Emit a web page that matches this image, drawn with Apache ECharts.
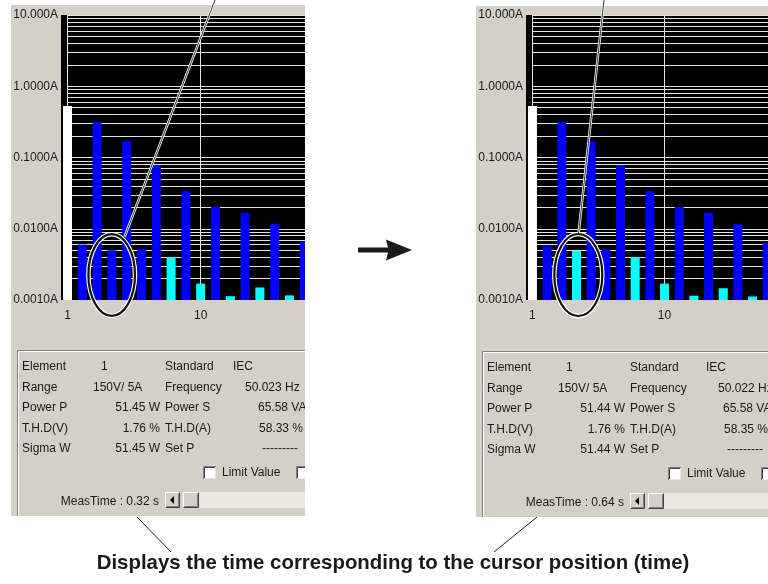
<!DOCTYPE html>
<html><head><meta charset="utf-8">
<script src="https://cdn.jsdelivr.net/npm/echarts@6/dist/echarts.min.js"></script>
<style>html,body{margin:0;padding:0;background:#fff}#c{width:768px;height:584px}</style>
</head><body><div id="c"></div>
<script>
// ---- data ----
const harmonicOrders = [1,2,3,4,5,6,7,8,9,10,11,12,13,14,15,16,17];
const leftCurrents  = [0.53, 0.0060, 0.315, 0.0050, 0.170, 0.0052, 0.0785, 0.0040, 0.0335, 0.0017, 0.0202, 0.00113, 0.0168, 0.0015, 0.0118, 0.00116, 0.0065];
const rightCurrents = [0.53, 0.0058, 0.315, 0.0049, 0.168, 0.0051, 0.0785, 0.0040, 0.0335, 0.0017, 0.0202, 0.00115, 0.0168, 0.00146, 0.0116, 0.00112, 0.0063];
// F = fundamental, B = blue bar, C = cyan bar
const leftStatus  = ['F','B','B','B','B','B','B','C','B','C','B','C','B','C','B','C','B'];
const rightStatus = ['F','B','B','C','B','B','B','C','B','C','B','C','B','C','B','C','B'];
const yTickLabels = ['0.0010A','0.0100A','0.1000A','1.0000A','10.000A'];
const xTickValues = [1, 10];
const infoLabelsA = ['Element','Range','Power P','T.H.D(V)','Sigma W'];
const infoLabelsB = ['Standard','Frequency','Power S','T.H.D(A)','Set P'];
const leftValuesA  = ['1','150V/ 5A','51.45 W','1.76 %','51.45 W'];
const leftValuesB  = ['IEC','50.023 Hz','65.58 VA','58.33 %','---------'];
const rightValuesA = ['1','150V/ 5A','51.44 W','1.76 %','51.44 W'];
const rightValuesB = ['IEC','50.022 Hz','65.58 VA','58.35 %','---------'];
const measTimes = ['0.32 s','0.64 s'];
const checkLabel = 'Limit Value';
const caption = 'Displays the time corresponding to the cursor position (time)';

// ---- styling / layout ----
const statusCodes = 'FBC';
const statusColors = ['#ffffff','#0000ff','#00ffff'];
const yMin = 0.001, yMax = 10, xMin = 0.56, xMax = 17.05, barW = 9;
const FONT = '12px "Liberation Sans", Arial, sans-serif';
const TXT = '#1a1a1a', FACE = '#d4d0c8';
const gridLines = [];
[0.001,0.01,0.1,1].forEach(d => { for (let k = 1; k <= 9; k++) { if (d === 0.001 && k === 1) continue; gridLines.push(+(d*k).toPrecision(3)); } });
gridLines.push(10);

const panels = [
  {dx:0, dy:0, vals:leftCurrents, stat:leftStatus, A:leftValuesA, B:leftValuesB, meas:measTimes[0], shiftB:0},
  {dx:465, dy:1, vals:rightCurrents, stat:rightStatus, A:rightValuesA, B:rightValuesB, meas:measTimes[1], shiftB:8}
];

const grids = [], xAxes = [], yAxes = [], series = [], G = [];
panels.forEach((p, i) => {
  grids.push({left: 61 + p.dx, top: 15, width: 244, height: 285, show: true, backgroundColor: '#000', borderWidth: 0});
  xAxes.push({gridIndex: i, type: 'value', min: xMin, max: xMax,
    axisLine: {show: false}, axisTick: {show: false}, splitLine: {show: false},
    axisLabel: {customValues: xTickValues, color: TXT, fontSize: 12, fontFamily: 'Liberation Sans', margin: 10}});
  yAxes.push({gridIndex: i, type: 'log', logBase: 10, min: yMin, max: yMax,
    axisLine: {show: false}, axisTick: {show: false}, splitLine: {show: false},
    axisLabel: {color: TXT, fontSize: 12, fontFamily: 'Liberation Sans', margin: 3,
      formatter: v => yTickLabels[Math.round(Math.log10(v)) + 3]}});
  series.push({type: 'line', xAxisIndex: i, yAxisIndex: i, data: [], z: 1, silent: true,
    markLine: {z: 1, silent: true, symbol: 'none', animation: false, label: {show: false},
      lineStyle: {type: 'solid', color: '#e4e4e4', width: 1, opacity: 1},
      emphasis: {disabled: true},
      data: gridLines.map(v => [{coord: [1, v]}, {coord: [xMax, v]}])
        .concat(xTickValues.map(x => [{coord: [x, yMax]}, {coord: [x, yMin]}]))}});
  series.push({type: 'custom', xAxisIndex: i, yAxisIndex: i, z: 10, clip: true, silent: true,
    encode: {x: 0, y: 1},
    data: harmonicOrders.map((o, k) => [o, p.vals[k], statusCodes.indexOf(p.stat[k])]),
    renderItem: (params, api) => {
      const x = api.value(0), v = api.value(1), s = api.value(2);
      const top = api.coord([x, v]);
      const base = api.coord([x, yMin]);
      return {type: 'rect', shape: {x: top[0] - barW / 2, y: top[1], width: barW, height: base[1] - top[1]},
        style: {fill: statusColors[s]}};
    }});

  // ---- panel chrome (graphics) ----
  const dx = p.dx, dy = p.dy;
  G.push({type: 'rect', shape: {x: 11 + dx, y: 5 + dy, width: 300, height: 511}, style: {fill: FACE}, z: -1, silent: true});
  // etched group box (top + left edges)
  G.push({type: 'polyline', shape: {points: [[17.5 + dx, 516 + dy], [17.5 + dx, 350.5 + dy], [330 + dx, 350.5 + dy]]}, style: {stroke: '#808080', lineWidth: 1, fill: null}, z: 2});
  G.push({type: 'polyline', shape: {points: [[18.5 + dx, 516 + dy], [18.5 + dx, 351.5 + dy], [330 + dx, 351.5 + dy]]}, style: {stroke: '#ffffff', lineWidth: 1, fill: null}, z: 2});
  const rows = [367, 387.5, 408, 428.5, 449];
  const t = (x, y, s, al) => G.push({type: 'text', x: x, y: y + dy, z: 5, silent: true,
    style: {text: s, font: FONT, fill: TXT, align: al || 'left', textAlign: al || 'left', verticalAlign: 'middle', textVerticalAlign: 'middle'}});
  rows.forEach((y, k) => {
    t(22 + dx, y, infoLabelsA[k]);
    if (k === 0) t(101 + dx, y, p.A[k]);
    else if (k === 1) t(93 + dx, y, p.A[k]);
    else t(160 + dx, y, p.A[k], 'right');
    t(165 + dx, y, infoLabelsB[k]);
    const bx = [233 + p.shiftB, 245 + p.shiftB, 258, 259, 262][k];
    t(bx + dx, y, p.B[k]);
  });
  // checkboxes
  [203.5, 296.5].forEach(cx => {
    G.push({type: 'rect', shape: {x: cx + dx, y: 466.5 + dy, width: 12, height: 12}, style: {fill: '#ffffff', stroke: null}, z: 3});
    G.push({type: 'polyline', shape: {points: [[cx + dx, 479 + dy], [cx + dx, 466.5 + dy], [cx + 12.5 + dx, 466.5 + dy]]}, style: {stroke: '#808080', lineWidth: 1, fill: null}, z: 4});
    G.push({type: 'polyline', shape: {points: [[cx + 1 + dx, 478 + dy], [cx + 1 + dx, 467.5 + dy], [cx + 11.5 + dx, 467.5 + dy]]}, style: {stroke: '#404040', lineWidth: 1, fill: null}, z: 4});
  });
  t(222 + dx, 473, checkLabel);
  // MeasTime and scrollbar
  t(159 + dx, 501.5, 'MeasTime : ' + p.meas, 'right');
  G.push({type: 'rect', shape: {x: 199 + dx, y: 492 + dy, width: 140, height: 16}, style: {fill: '#ebe8e2'}, z: 3});
  [[165, 15], [183, 16]].forEach(([bx, bw]) => {
    G.push({type: 'rect', shape: {x: bx + dx, y: 492 + dy, width: bw, height: 16}, style: {fill: FACE}, z: 4});
    G.push({type: 'polyline', shape: {points: [[bx + 0.5 + dx, 507.5 + dy], [bx + 0.5 + dx, 492.5 + dy], [bx + bw - 0.5 + dx, 492.5 + dy]]}, style: {stroke: '#ffffff', lineWidth: 1, fill: null}, z: 5});
    G.push({type: 'polyline', shape: {points: [[bx + 0.5 + dx, 507.5 + dy], [bx + bw - 0.5 + dx, 507.5 + dy], [bx + bw - 0.5 + dx, 492.5 + dy]]}, style: {stroke: '#404040', lineWidth: 1, fill: null}, z: 5});
    G.push({type: 'polyline', shape: {points: [[bx + 1.5 + dx, 506.5 + dy], [bx + bw - 1.5 + dx, 506.5 + dy], [bx + bw - 1.5 + dx, 493.5 + dy]]}, style: {stroke: '#808080', lineWidth: 1, fill: null}, z: 5});
  });
  G.push({type: 'polygon', shape: {points: [[170 + dx, 500 + dy], [174 + dx, 496 + dy], [174 + dx, 504 + dy]]}, style: {fill: '#000'}, z: 6});
});

// white gap between panels (clips overflowing panel content)
G.push({type: 'rect', shape: {x: 305, y: 0, width: 171, height: 530}, style: {fill: '#ffffff'}, z: 50, silent: true});
// arrow
G.push({type: 'polygon', shape: {points: [[358, 247.5], [388, 247.5], [386, 239.5], [412, 250], [386, 260.5], [388, 252.5], [358, 252.5]]}, style: {fill: '#1a1a1a'}, z: 60});
// highlight ellipses and leader lines
[[111.7, 275, 23.3, 40.8, 215, 124.5, 237], [578.3, 275, 24, 41, 604, 578.5, 234]].forEach(([cx, cy, rx, ry, lx, ex, ey]) => {
  G.push({type: 'line', shape: {x1: lx, y1: 0, x2: ex, y2: ey}, style: {stroke: '#ffffff', lineWidth: 2.5}, z: 100});
  G.push({type: 'line', shape: {x1: lx, y1: 0, x2: ex, y2: ey}, style: {stroke: '#000000', lineWidth: 0.8}, z: 101});
  G.push({type: 'ellipse', shape: {cx, cy, rx, ry}, style: {fill: 'none', stroke: '#ffffff', lineWidth: 4.5}, z: 100});
  G.push({type: 'ellipse', shape: {cx, cy, rx, ry}, style: {fill: 'none', stroke: '#111111', lineWidth: 2.2}, z: 101});
});
// caption pointers and caption
G.push({type: 'line', shape: {x1: 137, y1: 517, x2: 171, y2: 552}, style: {stroke: '#222', lineWidth: 1}, z: 60});
G.push({type: 'line', shape: {x1: 537, y1: 517, x2: 494, y2: 552}, style: {stroke: '#222', lineWidth: 1}, z: 60});
G.push({type: 'text', x: 393, y: 563, z: 60, silent: true,
  style: {text: caption, font: 'bold 20.4px "Liberation Sans", Arial, sans-serif', fill: '#1a1a1a', align: 'center', textAlign: 'center', verticalAlign: 'middle', textVerticalAlign: 'middle'}});

const chart = echarts.init(document.getElementById('c'), null, {renderer: 'canvas', width: 768, height: 584});
chart.setOption({
  animation: false,
  backgroundColor: '#ffffff',
  grid: grids, xAxis: xAxes, yAxis: yAxes, series: series,
  graphic: {elements: G}
});
</script></body></html>
